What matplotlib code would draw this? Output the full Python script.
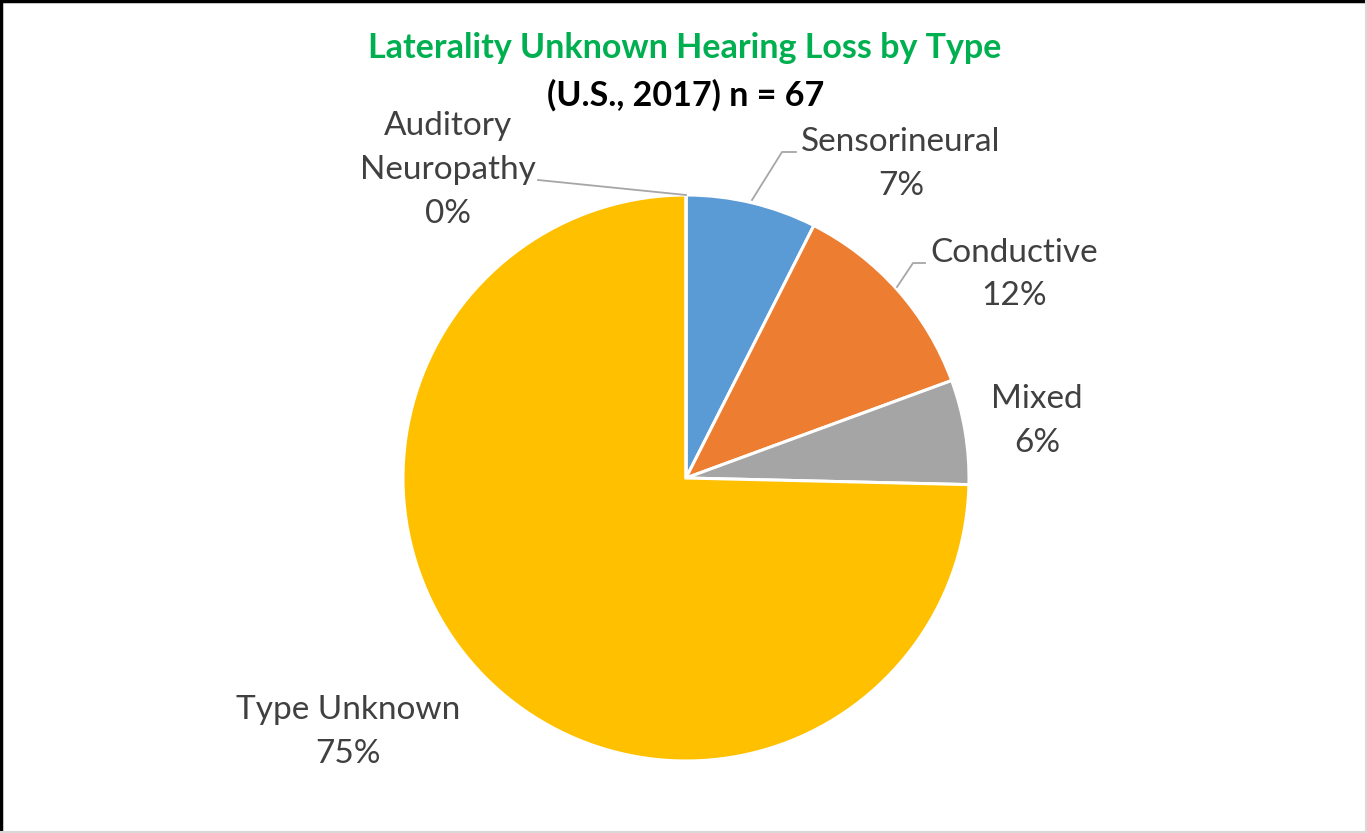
import matplotlib.pyplot as plt
from matplotlib.lines import Line2D

# data (counts, n = 67)
categories = ['Sensorineural', 'Conductive', 'Mixed', 'Type Unknown', 'Auditory\nNeuropathy']
counts = [5, 8, 4, 50, 0]
colors = ['#5B9BD5', '#ED7D31', '#A5A5A5', '#FFC000', '#4472C4']

plt.rcParams['font.family'] = ['Lato', 'DejaVu Sans']

W, H = 1367, 833
fig = plt.figure(figsize=(W / 100, H / 100), dpi=100)

# pie centre / radius in pixels
cx, cy, r = 686, 478, 283
ax = fig.add_axes([(cx - r) / W, (H - cy - r) / H, 2 * r / W, 2 * r / H])
ax.pie(counts, colors=colors, startangle=90, counterclock=False, radius=1,
       wedgeprops=dict(edgecolor='white', linewidth=2.2))
ax.set_xlim(-1, 1)
ax.set_ylim(-1, 1)
ax.set_aspect('equal')
ax.set_clip_on(False)

total = sum(counts)
label_pos = {
    'Sensorineural': (0.760, 1.111),
    'Conductive': (1.159, 0.719),
    'Mixed': (1.240, 0.201),
    'Type Unknown': (-1.194, -0.898),
    'Auditory\nNeuropathy': (-0.841, 1.088),
}
for name, v in zip(categories, counts):
    pct = round(v / total * 100)
    x, y = label_pos[name]
    ax.text(x, y, f'{name}\n{pct}%', ha='center', va='center', fontsize=24,
            color='#404040', linespacing=1.58, clip_on=False)

# leader lines
lc = '#A6A6A6'
ax.plot([(538 - cx) / r, 0], [(cy - 180) / r, 1.0], color=lc, lw=1.3, clip_on=False)
ax.plot([(752 - cx) / r, (782 - cx) / r, (796 - cx) / r],
        [(cy - 200) / r, (cy - 152) / r, (cy - 152) / r], color=lc, lw=1.3, clip_on=False)
ax.plot([(897 - cx) / r, (913 - cx) / r, (925 - cx) / r],
        [(cy - 287) / r, (cy - 263) / r, (cy - 263) / r], color=lc, lw=1.3, clip_on=False)

# titles
fig.text(685 / W, 1 - 48 / H, 'Laterality Unknown Hearing Loss by Type', ha='center', va='center',
         fontsize=24.5, fontweight='bold', color='#00B050')
fig.text(686 / W, 1 - 95 / H, '(U.S., 2017) n = 67', ha='center', va='center',
         fontsize=24.5, fontweight='bold', color='black')

# frame
fig.add_artist(Line2D([0, 1], [0.999, 0.999], color='black', lw=2.5, transform=fig.transFigure))
fig.add_artist(Line2D([0.0007, 0.0007], [0, 1], color='black', lw=2.5, transform=fig.transFigure))
fig.add_artist(Line2D([0.9993, 0.9993], [0, 1], color='#D9D9D9', lw=1.5, transform=fig.transFigure))
fig.add_artist(Line2D([0, 1], [0.001, 0.001], color='#D9D9D9', lw=1.5, transform=fig.transFigure))

fig.savefig('out.png', dpi=100)
